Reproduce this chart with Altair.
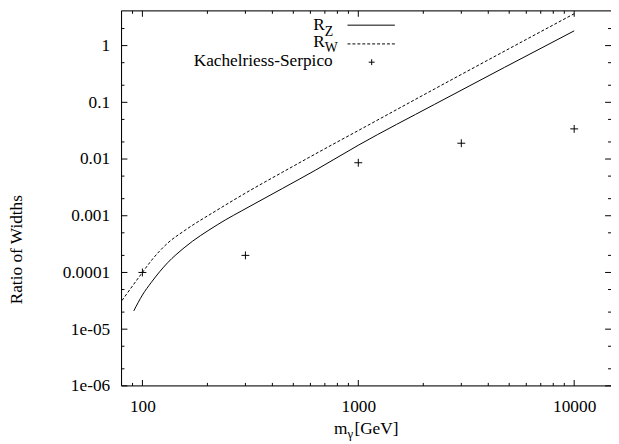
import altair as alt
import pandas as pd

# ---- data ----
m_Z = [91.2, 100, 110, 131, 156, 222, 315, 447, 635, 1000, 2255, 10000]
R_Z = [2.1e-5, 4.0e-5, 6.7e-5, 1.49e-4, 2.72e-4, 6.9e-4, 1.47e-3, 3.05e-3, 6.4e-3, 0.0175, 0.092, 1.82]
m_W = [80.4, 100, 110, 131, 156, 222, 315, 447, 635, 1076, 2255, 10000]
R_W = [3.2e-5, 1.0e-4, 1.62e-4, 3.3e-4, 5.4e-4, 1.26e-3, 2.79e-3, 5.9e-3, 1.24e-2, 0.037, 0.172, 3.65]
m_KS = [100, 300, 1000, 3000, 10000]
R_KS = [1.0e-4, 2.0e-4, 0.0086, 0.019, 0.034]

x_tick_values = [100, 1000, 10000]
x_tick_labels = ["100", "1000", "10000"]
x_minor = [80, 90, 200, 300, 400, 500, 600, 700, 800, 900,
           2000, 3000, 4000, 5000, 6000, 7000, 8000, 9000]
y_tick_values = [1e-6, 1e-5, 1e-4, 1e-3, 1e-2, 1e-1, 1]
y_tick_labels = ["1e-06", "1e-05", "0.0001", "0.001", "0.01", "0.1", "1"]
y_minor = [2e-6, 5e-6, 2e-5, 5e-5, 2e-4, 5e-4, 2e-3, 5e-3, 2e-2, 5e-2, 0.2, 0.5, 2]

W, H = 496, 380
FONT = "Liberation Serif"
FS = 17.5
XDOM = [80, 14810]
YDOM = [1e-6, 4.1]

xs = alt.Scale(type="log", domain=XDOM, nice=False)
ys = alt.Scale(type="log", domain=YDOM, nice=False)


def make_expr(vals, labs):
    return " : ".join(f"datum.value < {v*1.5} ? '{l}'" for v, l in zip(vals, labs)) + " : ''"


df_Z = pd.DataFrame({"m": m_Z, "r": R_Z})
df_W = pd.DataFrame({"m": m_W, "r": R_W})
df_KS = pd.DataFrame({"m": m_KS, "r": R_KS})

axis_common = dict(ticks=False, domain=False, grid=False, title=None, labelFont=FONT,
                   labelFontSize=FS, labelColor="black", labelFlush=False)

base_axes = alt.Chart(df_KS).mark_point(opacity=0).encode(
    x=alt.X("m:Q", scale=xs, axis=alt.Axis(values=x_tick_values, labelPadding=12,
                                           labelExpr=make_expr(x_tick_values, x_tick_labels), **axis_common)),
    y=alt.Y("r:Q", scale=ys, axis=alt.Axis(values=y_tick_values, labelPadding=12,
                                           labelExpr=make_expr(y_tick_values, y_tick_labels), **axis_common)),
)

line_Z = alt.Chart(df_Z).mark_line(color="black", strokeWidth=1, interpolate="monotone").encode(
    x=alt.X("m:Q", scale=xs), y=alt.Y("r:Q", scale=ys))
line_W = alt.Chart(df_W).mark_line(color="black", strokeWidth=1, strokeDash=[3, 2], interpolate="monotone").encode(
    x=alt.X("m:Q", scale=xs), y=alt.Y("r:Q", scale=ys))
plus_path = "M-1,0L1,0M0,-1L0,1"
pts = alt.Chart(df_KS).mark_point(shape=plus_path, filled=False, color="black", strokeWidth=1, size=64, opacity=1).encode(
    x=alt.X("m:Q", scale=xs), y=alt.Y("r:Q", scale=ys))

one = pd.DataFrame({"a": [0]})

# ---- frame (left, top, bottom; right border lies just outside the picture) ----
frame = [
    alt.Chart(one).mark_rule(color="black", strokeWidth=1).encode(x=alt.value(0), y=alt.value(0), y2=alt.value(H)),
    alt.Chart(one).mark_rule(color="black", strokeWidth=1).encode(x=alt.value(0), x2=alt.value(W), y=alt.value(0)),
    alt.Chart(one).mark_rule(color="black", strokeWidth=1).encode(x=alt.value(0), x2=alt.value(W), y=alt.value(H)),
]


# ---- ticks (inward, mirrored on all four sides) ----
def xticks(vals, L):
    d = pd.DataFrame({"m": vals})
    b = alt.Chart(d).mark_rule(color="black", strokeWidth=1)
    return [b.encode(x=alt.X("m:Q", scale=xs), y=alt.value(H), y2=alt.value(H - L)),
            b.encode(x=alt.X("m:Q", scale=xs), y=alt.value(0), y2=alt.value(L))]


def yticks(vals, L):
    d = pd.DataFrame({"r": vals})
    b = alt.Chart(d).mark_rule(color="black", strokeWidth=1)
    return [b.encode(y=alt.Y("r:Q", scale=ys), x=alt.value(0), x2=alt.value(L)),
            b.encode(y=alt.Y("r:Q", scale=ys), x=alt.value(W), x2=alt.value(W - L))]


ticks = xticks(x_tick_values, 6) + xticks(x_minor, 3) + yticks(y_tick_values, 6) + yticks(y_minor, 3)


def txt(s, x, y, size=FS, align="left", baseline="alphabetic", angle=0):
    kw = dict(font=FONT, fontSize=size, color="black", align=align, baseline=baseline, text=s)
    if angle:
        kw["angle"] = angle
    return alt.Chart(one).mark_text(**kw).encode(x=alt.value(x), y=alt.value(y))


# legend
legend = [
    txt("R", 206, 19.5, align="right"), txt("Z", 206, 25, size=14),
    alt.Chart(one).mark_rule(color="black", strokeWidth=1).encode(x=alt.value(229), x2=alt.value(277), y=alt.value(14.5)),
    txt("R", 206, 36.5, align="right"), txt("W", 206, 42, size=14),
    alt.Chart(one).mark_rule(color="black", strokeWidth=1, strokeDash=[3, 2]).encode(x=alt.value(229), x2=alt.value(277), y=alt.value(33.5)),
    txt("Kachelriess-Serpico", 214, 56, align="right"),
    alt.Chart(one).mark_point(shape=plus_path, filled=False, color="black", strokeWidth=1, size=36, opacity=1).encode(
        x=alt.value(253.5), y=alt.value(52)),
]

titles = [
    txt("m", 229, 429, align="right"), txt("γ", 229, 433, size=13), txt("[GeV]", 236, 429),
    txt("Ratio of Widths", -106, 242, align="center", baseline="middle", angle=270),
]

chart = alt.layer(base_axes, *frame, *ticks, line_Z, line_W, pts, *legend, *titles).properties(
    width=W, height=H,
    autosize=alt.AutoSizeParams(type="none"),
    padding={"left": 115, "top": 0, "right": 0, "bottom": 56},
).configure_view(stroke=None).configure(background="white")

chart.save("out.html", embed_options={"renderer": "svg", "actions": False})
